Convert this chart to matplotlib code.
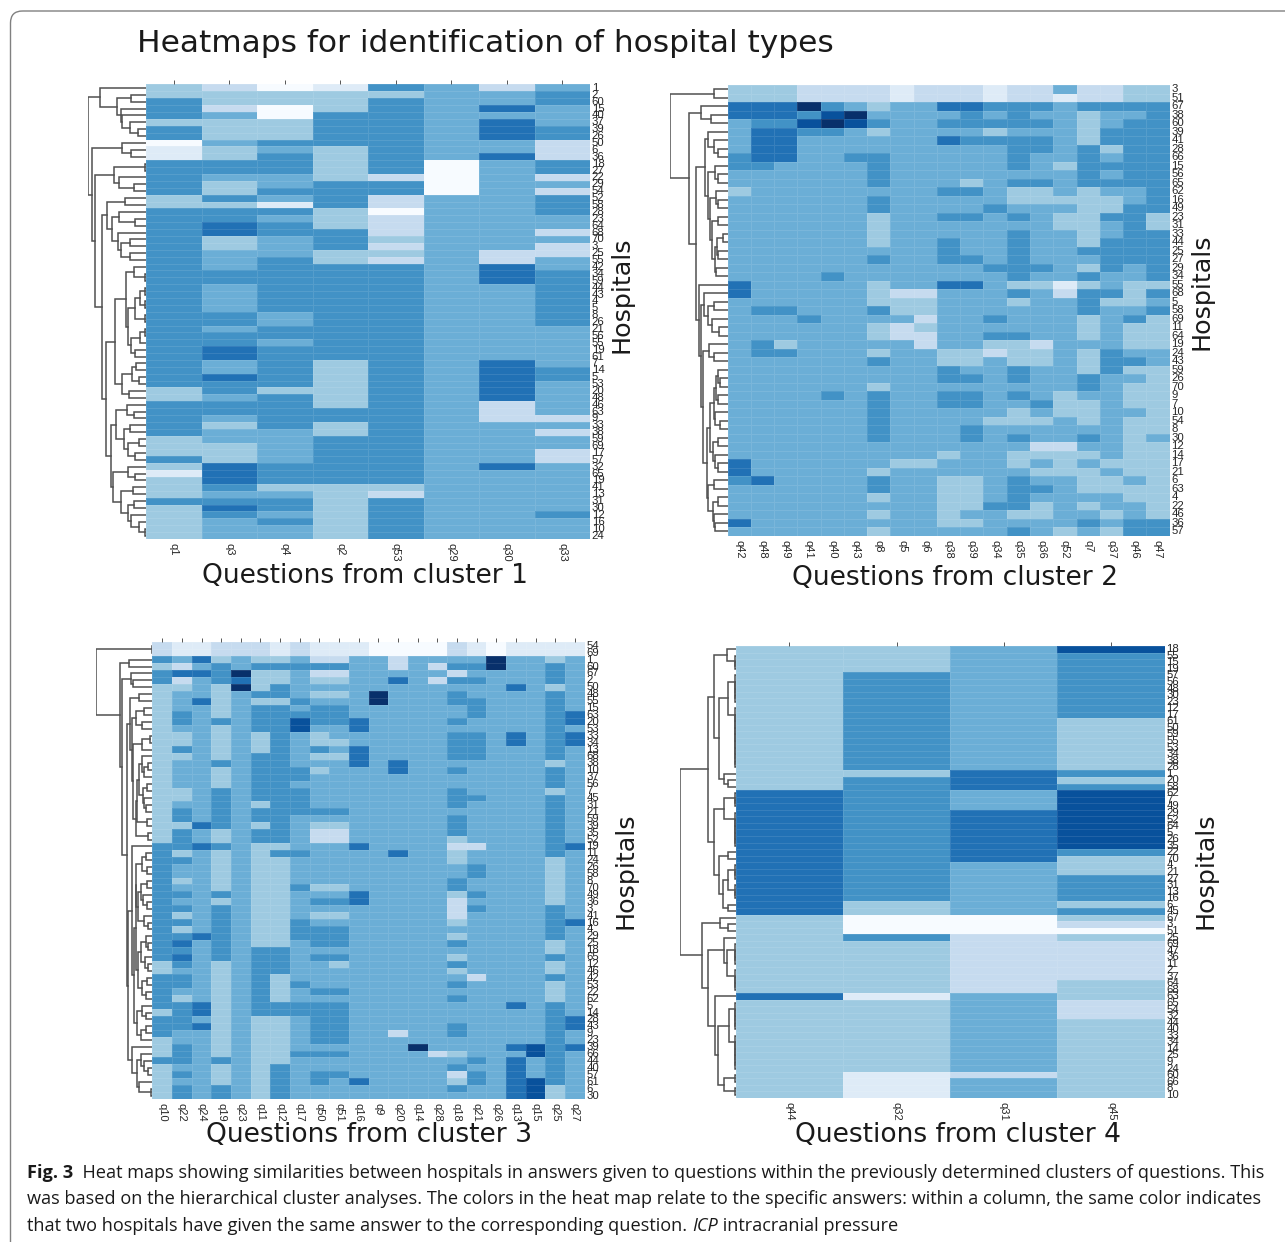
import matplotlib
matplotlib.use("Agg")
import matplotlib.pyplot as plt
from matplotlib.colors import ListedColormap, BoundaryNorm
from matplotlib.patches import FancyBboxPatch
import numpy as np

W, H = 1285, 1242
LEVEL_COLORS = ['#f7fbff', '#deebf7', '#c6dbef', '#9ecae1', '#6baed6',
                '#4292c6', '#2171b5', '#08519c', '#08306b']

TITLE = 'Heatmaps for identification of hospital types'

# ---- cluster 1: answer level per hospital, as (level, number of rows) runs
C1_QUESTIONS = ['q1', 'q3', 'q4', 'q2', 'q53', 'q29', 'q30', 'q33']
C1_HOSPITALS = [1,2,60,15,40,37,39,26,50,6,36,18,27,22,29,54,52,58,28,23,64,68,70,3,25,55,42,34,59,44,
                43,4,5,8,26,21,56,55,19,61,7,14,5,53,20,48,46,63,9,33,38,59,69,17,57,32,65,19,41,13,
                31,30,12,16,10,24]
C1_Q1 = "3:2,5:3,3:1,5:2,0:1,1:2,5:5,3:2,5:26,3:2,5:5,3:3,5:1,3:1,1:1,3:3,5:1,3:5"
C1_Q3 = "2:1,3:2,2:1,4:1,3:3,4:1,3:2,5:2,4:1,3:2,5:1,3:1,5:2,6:2,3:2,4:3,5:2,4:4,5:2,4:1,5:2,6:2,4:2,6:1,5:2,4:1,5:2,4:1,3:1,4:2,3:3,6:3,5:1,4:1,5:1,6:1,5:1,4:3"
C1_Q4 = "0:1,3:2,0:2,3:3,5:1,4:1,5:3,4:2,5:1,4:1,1:1,5:1,4:1,5:2,4:3,5:8,4:2,5:2,4:1,5:6,3:1,5:5,4:5,5:3,3:1,4:1,5:2,4:1,5:1,4:2"
C1_Q2 = "1:1,3:3,5:5,3:5,5:4,3:3,5:3,3:2,5:14,3:7,5:2,3:2,5:7,3:8"
C1_Q53 = "5:1,3:1,5:11,2:1,5:2,2:2,0:1,2:3,3:1,2:1,3:1,2:1,5:32,3:1,2:1,5:6"
C1_Q29 = "4:11,0:5,4:50"
C1_Q30 = "2:1,4:2,6:1,4:1,6:3,4:2,6:1,4:13,2:2,6:3,4:11,6:6,2:3,4:6,6:1,4:10"
C1_Q33 = "4:1,5:2,4:3,5:2,2:3,5:2,2:1,4:1,2:1,5:3,4:2,2:1,4:1,2:2,4:2,5:8,4:6,5:2,4:5,2:1,4:1,2:1,4:2,2:2,4:7,5:1,4:3"
C1_COLUMNS = [C1_Q1, C1_Q3, C1_Q4, C1_Q2, C1_Q53, C1_Q29, C1_Q30, C1_Q33]
# linkage tree: (merge height, upper branch, lower branch); an integer is that many hospitals
C1_TREE = (172,
           (135, 1, (85, (45, 1, 1), (74, 1, (72, 1, (47, 1, (24, 1, 1)))))),
           (159, (72, 1, (45, 1, 1)),
            (152, (94, 2, (79, 1, (37, 1, 1))),
             (130,
              (117, (62, 1, 1),
               (102, (79, 1, (32, 1, 1)),
                (82, 1, (74, (47, 1, 1), (47, 1, 1))))),
              (120,
               (92,
                (60, (37, 1, 2),
                 (54, (32, (18, 2, 2), 2), (45, (19, 2, 1), (32, 1, 1)))),
                (70, (42, (30, 1, 1), (20, 1, 1)), (49, 1, 1))),
               (104,
                (90, (57, 1, (37, 1, 1)),
                 (64, (47, 1, 1), (52, (20, 1, 1), (32, 1, 1)))),
                (97, (54, 1, (32, 1, 1)),
                 (74, (40, 1, 1), (52, (37, 1, 1), (44, 1, (22, 1, 2))))))))))) 

# ---- cluster 2
C2_QUESTIONS = ['q42','q48','q49','q41','q40','q43','q8','q5','q6','q38','q39','q34','q35','q36','q52','q7','q37','q46','q47']
C2_HOSPITALS = [3,51,67,38,60,39,41,28,66,15,56,65,62,16,49,23,31,33,44,25,27,29,34,55,68,5,58,69,11,64,
                19,24,43,59,26,70,9,7,10,54,8,30,12,14,17,21,6,63,4,22,46,36,57]
C2_Q42 = "3:2,6:2,4:4,5:2,4:2,3:1,4:10,6:2,4:19,6:2,5:1,4:4,6:1,4:1"
C2_Q48 = "3:2,6:2,5:1,6:4,5:1,4:16,5:1,4:3,5:2,4:14,6:1,4:6"
C2_Q49 = "3:2,6:2,5:1,6:4,4:17,5:1,4:3,3:1,5:1,4:21"
C2_Q41 = "2:2,8:1,5:1,7:1,5:1,4:21,5:1,4:25"
C2_Q40 = "2:2,5:1,7:1,8:1,5:1,4:16,5:1,4:13,5:1,4:16"
C2_Q43 = "2:2,4:1,8:1,7:1,4:3,5:1,4:44"
C2_Q8 = "2:2,3:1,4:1,5:1,3:1,4:2,5:4,4:1,5:2,3:4,4:1,5:1,4:2,3:3,5:1,4:1,3:2,4:1,3:1,5:1,4:2,3:1,5:6,4:3,3:1,5:2,3:1,4:1,3:1,4:1,3:1"
C2_Q5 = "1:2,4:22,2:1,3:2,4:1,2:2,4:14,3:1,4:8"
C2_Q6 = "2:2,4:22,2:1,3:2,2:1,3:1,2:2,4:13,3:1,4:8"
C2_Q38 = "2:2,6:1,4:1,5:1,4:1,6:1,4:5,5:1,4:2,5:1,4:2,5:3,4:2,6:1,4:7,3:2,5:2,4:1,5:2,4:5,3:1,4:2,3:6,4:1"
C2_Q39 = "2:2,6:1,5:2,4:1,5:1,4:4,3:1,5:1,4:2,5:1,4:4,5:1,4:2,6:1,4:7,3:2,4:1,5:1,4:1,5:2,4:2,5:2,4:4,3:4,4:1,3:1,4:1"
C2_Q34 = "1:2,5:1,4:1,5:1,3:1,5:1,4:7,5:1,4:6,5:1,4:5,5:1,4:1,5:1,3:1,2:1,4:7,3:1,4:9,5:1,4:3"
C2_Q35 = "2:2,5:3,4:1,5:4,4:1,5:1,3:2,4:1,5:1,4:1,5:6,3:1,5:1,3:1,4:3,5:1,3:3,5:2,4:1,5:1,4:1,3:2,4:1,5:1,4:1,3:2,4:1,5:4,3:1,4:1,5:1"
C2_Q36 = "2:2,5:1,4:1,5:1,4:1,5:2,4:3,5:1,3:2,4:7,5:1,4:1,3:1,4:6,2:1,3:2,4:4,5:1,4:1,3:1,4:2,2:1,3:1,4:1,3:1,4:1,5:1,4:1,3:2,4:2"
C2_Q52 = "4:1,1:1,4:7,3:1,4:3,3:1,4:1,3:2,4:6,1:1,2:1,4:11,3:3,4:3,2:1,3:3,4:6,3:1"
C2_Q7 = "2:2,5:1,3:4,5:5,3:7,5:1,4:1,3:1,5:1,3:1,5:3,3:3,4:1,3:3,5:2,4:1,3:3,4:1,5:1,4:1,3:1,4:1,3:3,4:1,3:1,4:1,5:1,4:1"
C2_Q37 = "2:2,5:1,4:2,5:2,3:1,4:1,5:1,4:1,5:1,4:1,3:2,5:1,4:2,5:4,4:2,5:1,3:1,4:5,5:3,4:10,3:1,4:1,3:2,4:2,3:1,4:1,3:1"
C2_Q46 = "3:2,5:1,4:1,5:8,4:2,5:7,4:2,3:3,4:1,5:1,3:3,4:1,5:1,3:1,4:1,3:3,4:1,3:7,4:1,3:2,4:2,5:2"
C2_Q47 = "3:2,5:13,3:2,5:6,3:1,5:1,4:1,5:1,3:4,4:2,3:8,4:1,3:9,5:2"
C2_COLUMNS = [C2_Q42,C2_Q48,C2_Q49,C2_Q41,C2_Q40,C2_Q43,C2_Q8,C2_Q5,C2_Q6,C2_Q38,C2_Q39,C2_Q34,C2_Q35,C2_Q36,C2_Q52,C2_Q7,C2_Q37,C2_Q46,C2_Q47]
C2_TREE = (173, (41, 1, 1),
           (116, (81, 1, (51, 1, 1)),
            (95,
             (68, (58, 1, (41, 1, (28, 1, 1))),
              (60, (38, 1, (28, 1, 1)),
               (53, (36, 1, (30, 1, 1)),
                (48, (30, 1, 1),
                 (38, (33, (13, 1, 1), (28, 1, 1)), (36, 1, 1)))))),
             (85, 1,
              (81, (70, 1, (60, (41, 1, 1), (48, 1, (25, 1, 1)))),
               (73, (55, 1, (40, 1, 1)),
                (63,
                 (53,
                  (40, (36, (30, 1, (23, 1, 1)), (28, 1, 1)), (38, 1, (23, 1, 1))),
                  (43, (28, 1, 1), (38, 1, (28, 1, 1)))),
                 (58, (40, 1, 1), (45, (28, 1, 1), (40, 1, (38, 1, 1))))))))))) 

# ---- cluster 3
C3_QUESTIONS = ['q10','q22','q24','q19','q23','q11','q12','q17','q50','q51','q16','q9','q20','q14','q28','q18','q21','q26','q13','q15','q25','q27']
C3_HOSPITALS = [54,69,1,60,67,2,50,48,55,15,63,20,53,33,34,13,68,38,10,37,56,7,45,31,21,59,39,35,52,19,
                11,24,26,58,8,70,49,36,3,41,16,4,29,25,18,65,12,46,42,53,22,62,5,14,28,43,9,23,39,66,
                44,40,57,61,6,30]
C3_Q10 = "2:2,5:1,3:1,5:2,3:23,5:17,3:2,5:5,3:1,5:3,3:3,5:1,3:5"
C3_Q22 = "1:2,4:1,2:1,6:1,2:1,3:1,4:3,5:2,4:1,3:2,5:1,3:1,4:4,3:2,4:1,5:2,3:1,5:3,3:1,5:1,4:2,3:1,4:1,5:1,4:1,5:1,3:1,5:1,3:1,5:1,6:1,5:1,6:1,5:1,4:1,5:2,4:1,3:1,5:4,4:2,5:3,4:1,5:1,4:1,5:2"
C3_Q24 = "1:2,6:1,4:1,6:1,4:3,6:1,4:17,6:1,4:2,6:1,4:12,6:1,4:9,6:2,4:1,6:1,4:10"
C3_Q19 = "2:2,3:1,5:3,3:5,5:1,3:5,5:1,3:3,5:6,3:2,5:1,3:6,5:1,3:1,5:8,3:14,5:1,3:3,5:2"
C3_Q23 = "2:2,4:2,8:1,6:1,8:1,4:59"
C3_Q11 = "2:2,3:1,5:1,3:3,5:1,3:1,5:4,3:3,5:7,3:1,5:2,3:1,5:2,3:15,5:10,3:12"
C3_Q12 = "1:2,3:1,5:1,3:2,5:2,3:1,5:20,3:1,5:1,3:13,5:4,3:4,5:2,3:7,5:5"
C3_Q17 = "2:2,4:1,5:1,4:4,5:1,4:1,5:1,7:2,4:5,5:2,4:1,5:4,4:5,5:1,4:4,5:1,4:4,5:3,4:6,5:1,4:2,5:2,4:5,5:1,4:6"
C3_Q50 = "1:2,2:1,5:1,2:1,3:1,4:1,3:1,4:1,5:3,4:1,3:2,5:1,3:1,4:1,3:1,4:5,5:1,4:1,3:1,2:2,4:6,3:1,4:1,5:1,4:1,3:1,4:1,5:3,4:1,5:1,4:4,5:1,4:1,5:6,4:1,5:1,4:2,5:2,4:2"
C3_Q51 = "1:2,2:1,5:1,2:1,3:1,4:1,3:1,4:1,5:3,4:2,3:1,4:1,3:1,4:7,5:1,4:1,3:1,2:2,4:6,3:1,4:1,5:1,4:1,3:1,4:1,5:3,4:1,5:1,3:1,4:3,5:1,4:1,5:6,4:1,5:1,4:2,5:1,4:3"
C3_Q16 = "1:2,4:9,6:2,4:2,6:3,4:11,6:1,4:6,6:2,4:25,6:1,4:2"
C3_Q9 = "0:2,4:5,8:2,4:57"
C3_Q20 = "0:2,2:2,4:1,6:1,4:11,6:2,4:11,6:1,4:25,2:1,4:9"
C3_Q14 = "0:2,4:56,8:1,4:7"
C3_Q28 = "0:2,4:1,2:1,4:1,2:1,4:53,2:1,4:6"
C3_Q18 = "2:2,4:1,5:1,2:1,5:1,4:1,5:2,4:2,5:1,4:1,5:4,4:1,5:1,4:2,5:3,4:1,5:3,3:1,2:1,3:2,4:2,5:2,3:1,2:3,3:1,4:1,3:1,5:1,4:1,3:1,5:1,3:1,4:1,5:1,4:1,5:1,4:3,5:2,4:2,3:1,4:1,5:1,2:1,3:1,5:1,4:1"
C3_Q21 = "1:2,4:1,5:1,4:1,5:1,4:2,5:3,4:2,5:4,4:5,5:1,4:6,2:1,4:2,5:2,4:2,5:1,4:1,5:1,4:9,2:1,4:11,5:1,4:1,5:2,4:2"
C3_Q26 = "0:2,8:2,4:62"
C3_Q13 = "1:2,4:4,6:1,4:6,6:2,4:37,6:1,4:5,6:1,4:1,6:6"
C3_Q15 = "1:2,4:56,7:2,4:3,7:3"
C3_Q25 = "1:2,3:1,5:3,3:1,5:10,3:1,5:3,3:1,5:9,3:7,5:5,3:2,5:1,3:2,5:1,3:3,5:12,3:2"
C3_Q27 = "1:2,4:8,6:2,4:1,6:2,4:14,6:1,4:10,6:1,4:13,6:2,4:2,6:1,4:7"
C3_COLUMNS = [C3_Q10,C3_Q22,C3_Q24,C3_Q19,C3_Q23,C3_Q11,C3_Q12,C3_Q17,C3_Q50,C3_Q51,C3_Q16,C3_Q9,C3_Q20,C3_Q14,C3_Q28,C3_Q18,C3_Q21,C3_Q26,C3_Q13,C3_Q15,C3_Q25,C3_Q27]
C3_TREE = (168, (2, 1, 1),
           (97, (70, 1, 1),
            (90, (65, 1, (58, 1, 1)),
             (77,
              (67, (40, 1, 1),
               (62, (50, (25, 1, 1), (30, 1, 1)),
                (57, (30, (6, 1, 1), 1),
                 (50,
                  (45,
                   (40, (30, 1, (25, (14, 1, 1), 1)), (28, (15, 1, 1), (24, 1, (18, 1, 1)))),
                   (15, 1, 1)),
                  (12, 1, 1))))),
              (72,
               (60, 1,
                (55,
                 (50,
                  (48, (30, (18, 1, 1), (15, 1, 1)),
                   (44, (35, (15, 1, 1), (28, 1, (15, 1, 1))), (26, 1, (14, 1, 1)))),
                  (42, (35, (20, 1, (12, 1, 1)), (22, 1, (12, 1, 1))), (30, (16, 1, 1), (18, 1, 1)))),
                 (47, (30, 1, (20, 1, 1)), (35, (18, 1, 1), 1)))),
               (62, 1, (47, (33, 1, (25, 1, (14, 1, 1))), (40, 1, (5, 1, 1)))))))))

# ---- cluster 4
C4_QUESTIONS = ['q44', 'q32', 'q31', 'q45']
C4_HOSPITALS = [18,55,15,19,57,56,48,30,23,12,17,61,50,59,55,53,34,38,28,1,20,58,62,7,49,29,52,64,5,26,
                35,22,70,4,21,27,31,13,16,6,45,67,3,51,25,69,47,36,11,2,37,64,68,63,65,54,32,44,40,33,
                34,14,25,9,24,60,66,8,10]
C4_Q44 = "3:22,6:19,3:12,6:1,3:15"
C4_Q32 = "3:4,5:15,3:1,5:19,3:2,0:3,5:1,3:8,1:1,3:11,1:4"
C4_Q31 = "4:19,6:3,4:3,6:8,4:8,0:3,2:9,4:12,2:1,4:3"
C4_Q45 = "7:1,5:10,3:8,5:1,3:1,5:1,7:9,5:1,3:3,5:4,3:1,5:1,3:1,2:1,0:1,3:1,2:6,3:3,2:3,3:12"
C4_COLUMNS = [C4_Q44, C4_Q32, C4_Q31, C4_Q45]
C4_TREE = (167,
           (82,
            (64, (25, 1, 3), (49, (22, 5, 10), (35, 1, (22, 1, 1)))),
            (64, (34, 3, 6), (49, (22, 1, 1), (37, (24, 3, 3), (22, 1, 1))))),
           (102, (47, 1, (22, 1, 1)),
            (82, (35, 1, (25, 4, 4)),
             (62, 1, (52, (20, 5, 6), (34, 2, 2))))))

CAPTION_LINE1 = '  Heat maps showing similarities between hospitals in answers given to questions within the previously determined clusters of questions. This'
CAPTION_LINE2 = 'was based on the hierarchical cluster analyses. The colors in the heat map relate to the specific answers: within a column, the same color indicates'
CAPTION_LINE3A = 'that two hospitals have given the same answer to the corresponding question. '
CAPTION_LINE3B = 'ICP'
CAPTION_LINE3C = ' intracranial pressure'


def decode(column):
    values = []
    for part in column.split(','):
        level, count = part.split(':')
        values.extend([int(level)] * int(count))
    return values


def px_axes(fig, x0, y0, x1, y1):
    return fig.add_axes([x0 / W, 1 - y1 / H, (x1 - x0) / W, (y1 - y0) / H])


def draw_tree(ax, node, next_row, color='#505050', lw=1.1):
    """Draws a linkage tree; returns (row position, height, next free row)."""
    if isinstance(node, int):
        if node == 1:
            return next_row + 0.5, 0, next_row + 1
        node = (2, 1, node - 1)
    h, upper, lower = node
    y1, h1, next_row = draw_tree(ax, upper, next_row, color, lw)
    y2, h2, next_row = draw_tree(ax, lower, next_row, color, lw)
    ax.plot([h1, h, h, h2], [y1, y1, y2, y2], color=color, lw=lw, solid_joinstyle='miter')
    return (y1 + y2) / 2, h, next_row


fig = plt.figure(figsize=(W / 100, H / 100), dpi=100, facecolor='white')
bg = fig.add_axes([0, 0, 1, 1])
bg.set_xlim(0, W)
bg.set_ylim(H, 0)
bg.axis('off')
bg.add_patch(FancyBboxPatch((10.5, 11), W + 60, H + 60, boxstyle='round,pad=0,rounding_size=12',
                            facecolor='none', edgecolor='#808080', lw=1.0, zorder=1))

bg.text(137, 43, TITLE, fontsize=22.5, family='DejaVu Sans', va='center', ha='left', color='#1a1a1a')

cmap = ListedColormap(LEVEL_COLORS)
norm = BoundaryNorm(np.arange(-0.5, 9.5), cmap.N)

panels = [
    dict(cols=C1_COLUMNS, qs=C1_QUESTIONS, rows=C1_HOSPITALS, tree=C1_TREE,
         box=(146, 84.5, 590, 539), left=88, top=True, cluster=1,
         title_xy=(365, 576), hosp_xy=(622, 295)),
    dict(cols=C2_COLUMNS, qs=C2_QUESTIONS, rows=C2_HOSPITALS, tree=C2_TREE,
         box=(727.5, 85, 1169.6, 535.7), left=670, top=False, cluster=2,
         title_xy=(955, 578), hosp_xy=(1202, 292)),
    dict(cols=C3_COLUMNS, qs=C3_QUESTIONS, rows=C3_HOSPITALS, tree=C3_TREE,
         box=(152.4, 642.3, 584.7, 1099), left=96, top=True, cluster=3,
         title_xy=(369, 1135), hosp_xy=(626, 871)),
    dict(cols=C4_COLUMNS, qs=C4_QUESTIONS, rows=C4_HOSPITALS, tree=C4_TREE,
         box=(735.6, 646, 1164.7, 1098), left=680, top=True, cluster=4,
         title_xy=(958, 1135), hosp_xy=(1205, 871)),
]

for p in panels:
    x0, y0, x1, y1 = p['box']
    ax = px_axes(fig, x0, y0, x1, y1)
    data = np.array([decode(c) for c in p['cols']]).T
    n_rows, n_cols = data.shape
    ax.pcolormesh(np.arange(n_cols + 1), np.arange(n_rows + 1), data, cmap=cmap, norm=norm,
                  edgecolors=(1, 1, 1, 0.10), linewidth=0.5)
    ax.set_xlim(0, n_cols)
    ax.set_ylim(n_rows, 0)
    for s in ax.spines.values():
        s.set_visible(False)
    ax.set_xticks(np.arange(n_cols) + 0.5)
    ax.set_xticklabels(p['qs'], rotation=-90, fontsize=8, family='Liberation Sans', color='#262626')
    ax.tick_params(axis='x', bottom=False, top=p['top'], labelbottom=True, length=3, width=0.7,
                   color='#555555', pad=0, direction='out')
    ax.yaxis.tick_right()
    ax.set_yticks(np.arange(n_rows) + 0.5)
    ax.set_yticklabels([str(v) for v in p['rows']], fontsize=8.2, family='Liberation Sans', color='#262626')
    ax.tick_params(axis='y', right=False, left=False, length=0, pad=1.2)
    for t in ax.get_yticklabels():
        t.set_va('center')

    dax = px_axes(fig, p['left'], y0, x0, y1)
    dax.axis('off')
    draw_tree(dax, p['tree'], 0)
    dax.set_xlim(p['tree'][0], 0)
    dax.set_ylim(n_rows, 0)

    bg.text(*p['title_xy'], f"Questions from cluster {p['cluster']}", fontsize=19.05, family='DejaVu Sans',
            ha='center', va='center', color='#1a1a1a')
    bg.text(*p['hosp_xy'], 'Hospitals', fontsize=18.3, family='DejaVu Sans', rotation=90,
            ha='center', va='center', color='#1a1a1a')

# caption: three lines with bold and italic runs
cap_font = dict(family='Open Sans', fontsize=13.08, va='baseline', color='#1a1a1a')
renderer = fig.canvas.get_renderer()


def put_runs(x, y, runs):
    for text, style in runs:
        t = bg.text(x, y, text, **cap_font, **style)
        t.set_text(text.replace(' ', '\u00a0'))
        x = bg.transData.inverted().transform(t.get_window_extent(renderer))[1, 0]


put_runs(27, 1178, [('Fig. 3', dict(fontweight='bold')), (CAPTION_LINE1, {})])
put_runs(27, 1204, [(CAPTION_LINE2, {})])
put_runs(27, 1231, [(CAPTION_LINE3A, {}), (CAPTION_LINE3B, dict(fontstyle='italic')), (CAPTION_LINE3C, {})])

fig.savefig('out.png', dpi=100)
